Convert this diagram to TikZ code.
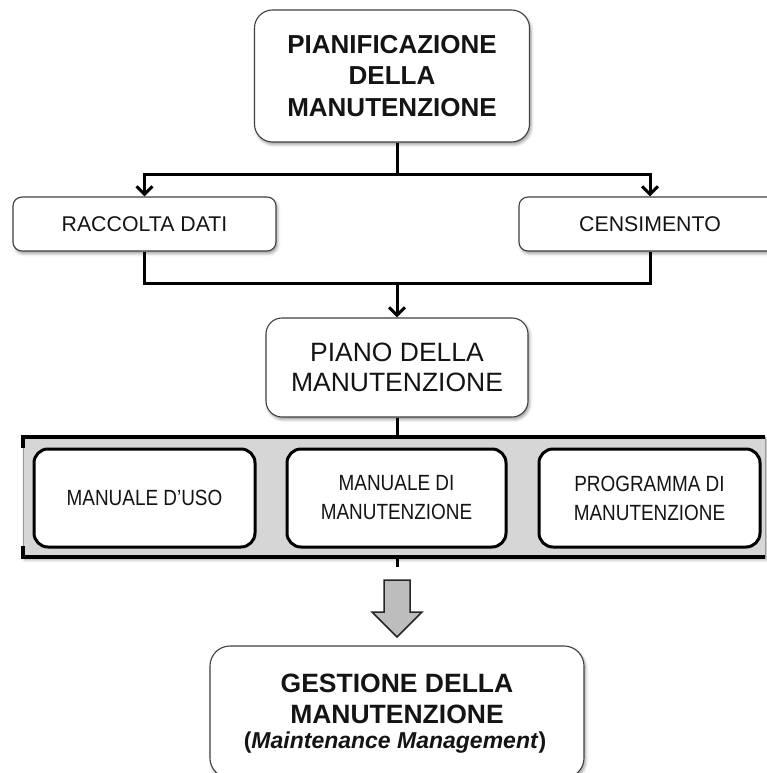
\documentclass[tikz,border=0pt]{standalone}
\usepackage{fontspec}
\setmainfont{Liberation Sans}
\newfontfamily\narrowsans[FakeStretch=0.86]{Liberation Sans}
\usetikzlibrary{arrows.meta,shadows.blur,calc}

\begin{document}
\begin{tikzpicture}[x=1pt,y=-1pt,
  every node/.style={inner sep=0pt, text=black!92},
  softshadow/.style={blur shadow={shadow xshift=1.5pt,shadow yshift=-2.5pt,shadow blur radius=3pt}},
  plainbox/.style={draw=black!75, line width=1.1pt, fill=white, rounded corners=#1, softshadow},
  thickbox/.style={draw=black, line width=3pt, fill=white, rounded corners=14pt,
    minimum width=221pt, minimum height=98pt, align=center,
    font=\narrowsans\fontsize{22}{29}\selectfont},
  smallbox/.style={plainbox=9pt, minimum height=54pt, font=\fontsize{21.3}{24}\selectfont},
  conn/.style={line width=3pt, black},
  arr/.style={conn, -{Straight Barb[length=8pt,width=16pt]}},
  bigarrow/.style={fill=black!26, draw=black!85, line width=1.5pt, line join=miter}
]
\useasboundingbox (0,0) rectangle (767,773);
\clip (0,0) rectangle (767,773);

% planning stage
\node[plainbox=18pt, minimum width=275pt, minimum height=132pt, align=center,
      font=\bfseries\fontsize{26}{31.5}\selectfont] (plan) at (392,76)
      {PIANIFICAZIONE\\DELLA\\MANUTENZIONE};

\node[smallbox, minimum width=263pt] (racc) at (144.5,224) {RACCOLTA DATI};
\node[smallbox, minimum width=262pt] (cens) at (650,224) {CENSIMENTO};

\node[plainbox=16pt, minimum width=262pt, minimum height=99pt, align=center,
      font=\fontsize{26.5}{29.5}\selectfont] (piano) at (397,367.5)
      {PIANO DELLA\\MANUTENZIONE};

% split and merge connectors
\coordinate (split) at (397,174);
\coordinate (merge) at (397,283);
\draw[conn] (plan.south -| piano.north) -- (split);
\draw[arr] (split) -| (racc.north);
\draw[arr] (split) -| (cens.north);
\draw[conn] (racc.south) |- (merge);
\draw[conn] (cens.south) |- (merge);
\draw[arr] (merge) -- (piano.north);

% grey band holding the three documents
\node[fill=black!16, draw=black!40, line width=0.6pt, minimum width=742pt,
      minimum height=120pt, softshadow] (band) at (394,497) {};
\draw[line width=4pt] ($(band.north west)+(0,11)$) -- (band.north west) -- (band.north east);
\draw[line width=4pt] ($(band.south west)+(0,-11)$) -- (band.south west) -- (band.south east);

\draw[conn] (piano.south) -- (band.north -| piano.south);
\coordinate (stub) at (397,567);
\draw[conn] (band.south -| piano.south) -- (stub);

\node[thickbox] (uso) at (144.5,498) {MANUALE D’USO};
\node[thickbox, minimum width=219pt] (manut) at (396.5,498) {MANUALE DI\\MANUTENZIONE};
\node[thickbox] (prog) at (649.5,498) {PROGRAMMA DI\\MANUTENZIONE};

% management stage
\node[plainbox=20pt, minimum width=374pt, minimum height=132pt] (gest) at (397,712) {};
\node[anchor=base, font=\bfseries\fontsize{26.5}{31}\selectfont] (gestA) at (397,692) {GESTIONE DELLA};
\node[anchor=base, font=\bfseries\fontsize{26.5}{31}\selectfont] (gestB) at (397,723) {MANUTENZIONE};
\node[anchor=base, font=\bfseries\fontsize{23}{26}\selectfont] (gestC) at (395,748) {(\textit{Maintenance Management})};

% block arrow into management
\draw[bigarrow] (384,580) -- (410,580) -- (410,612) -- (422,612) -- (gest.north |- 0,637)
  -- (372,612) -- (384,612) -- cycle;
\end{tikzpicture}
\end{document}
